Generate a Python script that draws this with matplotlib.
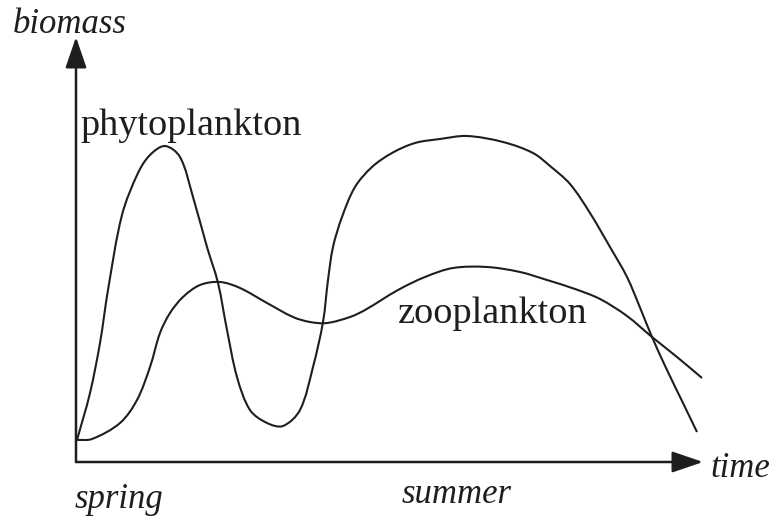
import matplotlib

matplotlib.use("Agg")
import matplotlib.pyplot as plt
from matplotlib.patches import PathPatch
from matplotlib.path import Path

# Schematic seasonal cycle: time runs from 0 (spring) to the arrow tip,
# biomass in arbitrary units.
PHYTO_T = [1, 14, 24, 32, 46, 62, 74, 89, 104, 117, 131, 142, 151, 161,
           174, 191, 207, 224, 237, 247, 252, 257, 266, 279, 296, 316, 339,
           364, 391, 427, 457, 474, 494, 514, 534, 551, 565, 576, 591, 607,
           621]
PHYTO_B = [22, 69, 119, 172, 247, 289, 307, 316, 305, 265, 215, 179, 132, 85,
           52, 39, 36, 52, 95, 140, 182, 215, 245, 275, 295, 309, 319, 323,
           326, 320, 309, 296, 278, 249, 215, 185, 152, 125, 92, 59, 30]
ZOO_T = [1, 16, 44, 61, 74, 84, 94, 107, 124, 144, 164, 191, 217, 234, 251,
         274, 289, 322, 349, 377, 411, 444, 471, 499, 524, 551, 576, 601, 626]
ZOO_B = [22, 23, 39, 62, 95, 129, 149, 165, 177, 180, 174, 159, 145, 140,
         139, 145, 152, 172, 185, 194, 195, 190, 182, 173, 163, 146, 125, 105,
         84]

INK = "#1e1e1e"
FONT = "Liberation Serif"


def smooth_path(xs, ys):
    """Chord-length Hermite spline through the points, as cubic Beziers."""
    pts = list(zip(xs, ys))
    n = len(pts)
    seg = [((pts[i + 1][0] - pts[i][0]) ** 2 +
            (pts[i + 1][1] - pts[i][1]) ** 2) ** 0.5 for i in range(n - 1)]
    tang = []
    for i in range(n):
        a, b = max(i - 1, 0), min(i + 1, n - 1)
        span = sum(seg[a:b])
        tang.append(((pts[b][0] - pts[a][0]) / span,
                     (pts[b][1] - pts[a][1]) / span))
    verts, codes = [pts[0]], [Path.MOVETO]
    for i in range(n - 1):
        d = seg[i] / 3
        c1 = (pts[i][0] + tang[i][0] * d, pts[i][1] + tang[i][1] * d)
        c2 = (pts[i + 1][0] - tang[i + 1][0] * d,
              pts[i + 1][1] - tang[i + 1][1] * d)
        verts += [c1, c2, pts[i + 1]]
        codes += [Path.CURVE4] * 3
    return Path(verts, codes)


def main() -> int:
    fig = plt.figure(figsize=(7.71, 5.18), dpi=100)
    ax = fig.add_axes([0, 0, 1, 1])
    ax.set_xlim(-76, 695)
    ax.set_ylim(-56, 462)
    ax.axis("off")

    for xs, ys in ((PHYTO_T, PHYTO_B), (ZOO_T, ZOO_B)):
        ax.add_patch(PathPatch(smooth_path(xs, ys), facecolor="none",
                               edgecolor=INK, lw=1.5, capstyle="butt"))

    arrow = dict(arrowstyle="-|>,head_length=19,head_width=6.5", color=INK,
                 lw=1.8, shrinkA=0, shrinkB=0, mutation_scale=1)
    ax.annotate("", xy=(627, 0), xytext=(0, 0), arrowprops=arrow)
    ax.annotate("", xy=(0, 425), xytext=(0, 0), arrowprops=arrow)

    it = dict(family=FONT, style="italic", size=25, color=INK, va="baseline")
    up = dict(family=FONT, size=27.5, color=INK, va="baseline")
    ax.text(-63, 429, "biomass", **it)
    ax.text(634, -15, "time", **it)
    ax.text(-1, -46, "spring", **it)
    ax.text(326, -41, "summer", **it)
    ax.text(4, 327, "phytoplankton", **up)
    ax.text(322, 139, "zooplankton", **up)

    fig.savefig("out.png", dpi=100)
    plt.close(fig)
    return 0


if __name__ == "__main__":
    raise SystemExit(main())
